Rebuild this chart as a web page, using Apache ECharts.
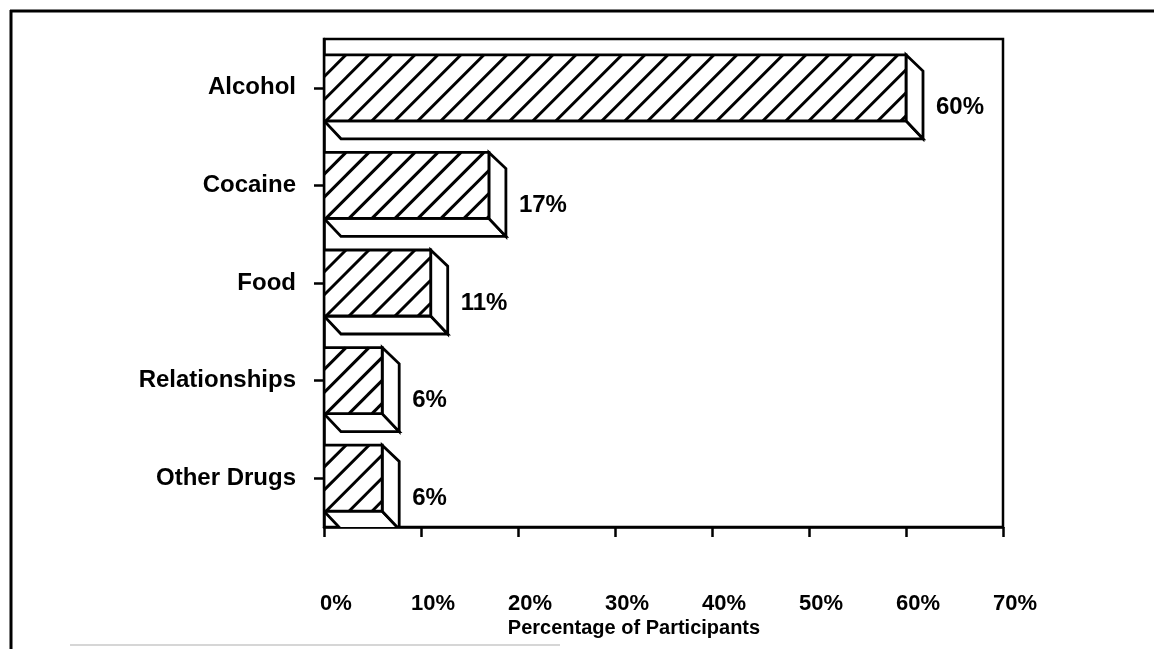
<!DOCTYPE html>
<html>
<head>
<meta charset="utf-8">
<script src="https://cdn.jsdelivr.net/npm/echarts@6/dist/echarts.min.js"></script>
<style>
  html, body { margin: 0; padding: 0; background: #fff; }
  #chart { width: 1154px; height: 649px; }
</style>
</head>
<body>
<div id="chart"></div>
<script>
// Share of participants by type of addiction
const categories = ['Alcohol', 'Cocaine', 'Food', 'Relationships', 'Other Drugs'];
const percentages = [60, 17, 11, 6, 6];
const xTicks = [0, 10, 20, 30, 40, 50, 60, 70];

const FONT = '"Liberation Sans", Arial, Helvetica, sans-serif';
const FACE_HALF = 33;   // half height of the front face
const DEPTH_X = 17;     // extrusion to the right
const DEPTH_Y = 18;     // extrusion downward
const HATCH_STEP = 23;  // horizontal spacing of the diagonal hatch
const LW = 2.8;

function hatchLines(x0, x1, top, bot) {
  const h = bot - top;
  const out = [];
  for (let x = x0 + 2 - Math.ceil(h / HATCH_STEP) * HATCH_STEP; x < x1; x += HATCH_STEP) {
    const tA = Math.max(0, x0 - x);
    const tB = Math.min(h, x1 - x);
    if (tB - tA < 0.5) continue;
    out.push({
      type: 'line',
      shape: { x1: x + tA, y1: bot - tA, x2: x + tB, y2: bot - tB },
      style: { stroke: '#000', lineWidth: 3, lineCap: 'butt' }
    });
  }
  return out;
}

function renderBar(params, api) {
  const v = api.value(0);
  const idx = api.value(1);
  const p0 = api.coord([0, idx]);
  const p1 = api.coord([v, idx]);
  const x0 = p0[0], x1 = p1[0], cy = p0[1];
  const top = cy - FACE_HALF, bot = cy + FACE_HALF;
  const strokeStyle = { fill: '#fff', stroke: '#000', lineWidth: LW, lineJoin: 'miter' };
  const children = [
    { // underside
      type: 'polygon',
      shape: { points: [[x0, bot], [x1, bot], [x1 + DEPTH_X, bot + DEPTH_Y], [x0 + DEPTH_X, bot + DEPTH_Y]] },
      style: strokeStyle
    },
    { // right end
      type: 'polygon',
      shape: { points: [[x1, top], [x1 + DEPTH_X, top + DEPTH_Y * 0.9], [x1 + DEPTH_X, bot + DEPTH_Y], [x1, bot]] },
      style: strokeStyle
    },
    { // front face
      type: 'rect',
      shape: { x: x0, y: top, width: x1 - x0, height: bot - top },
      style: { fill: '#fff', stroke: null }
    }
  ];
  hatchLines(x0, x1, top, bot).forEach(l => children.push(l));
  children.push({
    type: 'rect',
    shape: { x: x0, y: top, width: x1 - x0, height: bot - top },
    style: { fill: null, stroke: '#000', lineWidth: LW }
  });
  children.push({
    type: 'text',
    x: x1 + DEPTH_X + 13,
    y: cy + 20,
    style: {
      text: v + '%',
      fill: '#000',
      font: 'bold 24px ' + FONT,
      textAlign: 'left',
      textVerticalAlign: 'middle'
    }
  });
  return { type: 'group', children: children };
}

const chart = echarts.init(document.getElementById('chart'), null, { renderer: 'canvas' });

chart.setOption({
  backgroundColor: '#fff',
  animation: false,
  grid: {
    left: 324, top: 39, right: 151, bottom: 122,
    show: true, borderColor: '#000', borderWidth: 2.5, backgroundColor: 'transparent'
  },
  xAxis: {
    type: 'value',
    min: xTicks[0],
    max: xTicks[xTicks.length - 1],
    interval: 10,
    axisLine: { show: true, onZero: false, lineStyle: { color: '#000', width: 2.5 } },
    axisTick: { show: true, length: 10, lineStyle: { color: '#000', width: 2.5 } },
    splitLine: { show: false },
    axisLabel: {
      margin: 66,
      color: '#000',
      fontFamily: FONT,
      fontWeight: 'bold',
      fontSize: 22,
      align: 'center',
      padding: [0, 0, 0, 24],
      formatter: v => v + '%'
    }
  },
  yAxis: {
    type: 'category',
    data: categories,
    inverse: true,
    axisLine: { show: true, lineStyle: { color: '#000', width: 2.5 } },
    axisTick: { show: true, length: 10, alignWithLabel: true, lineStyle: { color: '#000', width: 2.5 } },
    axisLabel: {
      margin: 28,
      color: '#000',
      fontFamily: FONT,
      fontWeight: 'bold',
      fontSize: 24
    }
  },
  graphic: [
    { type: 'line', shape: { x1: 10, y1: 11, x2: 1154, y2: 11 }, style: { stroke: '#000', lineWidth: 3 } },
    { type: 'line', shape: { x1: 11, y1: 10, x2: 11, y2: 649 }, style: { stroke: '#000', lineWidth: 3 } },
    { type: 'line', shape: { x1: 70, y1: 645, x2: 560, y2: 645 }, style: { stroke: '#c8c8c8', lineWidth: 1.5 } },
    {
      type: 'text', x: 634, y: 628,
      style: {
        text: 'Percentage of Participants', fill: '#000',
        font: 'bold 20px ' + FONT, textAlign: 'center', textVerticalAlign: 'middle'
      }
    }
  ],
  series: [{
    type: 'custom',
    clip: true,
    renderItem: renderBar,
    encode: { x: 0, y: 1 },
    data: percentages.map((v, i) => [v, i])
  }]
});
</script>
</body>
</html>
